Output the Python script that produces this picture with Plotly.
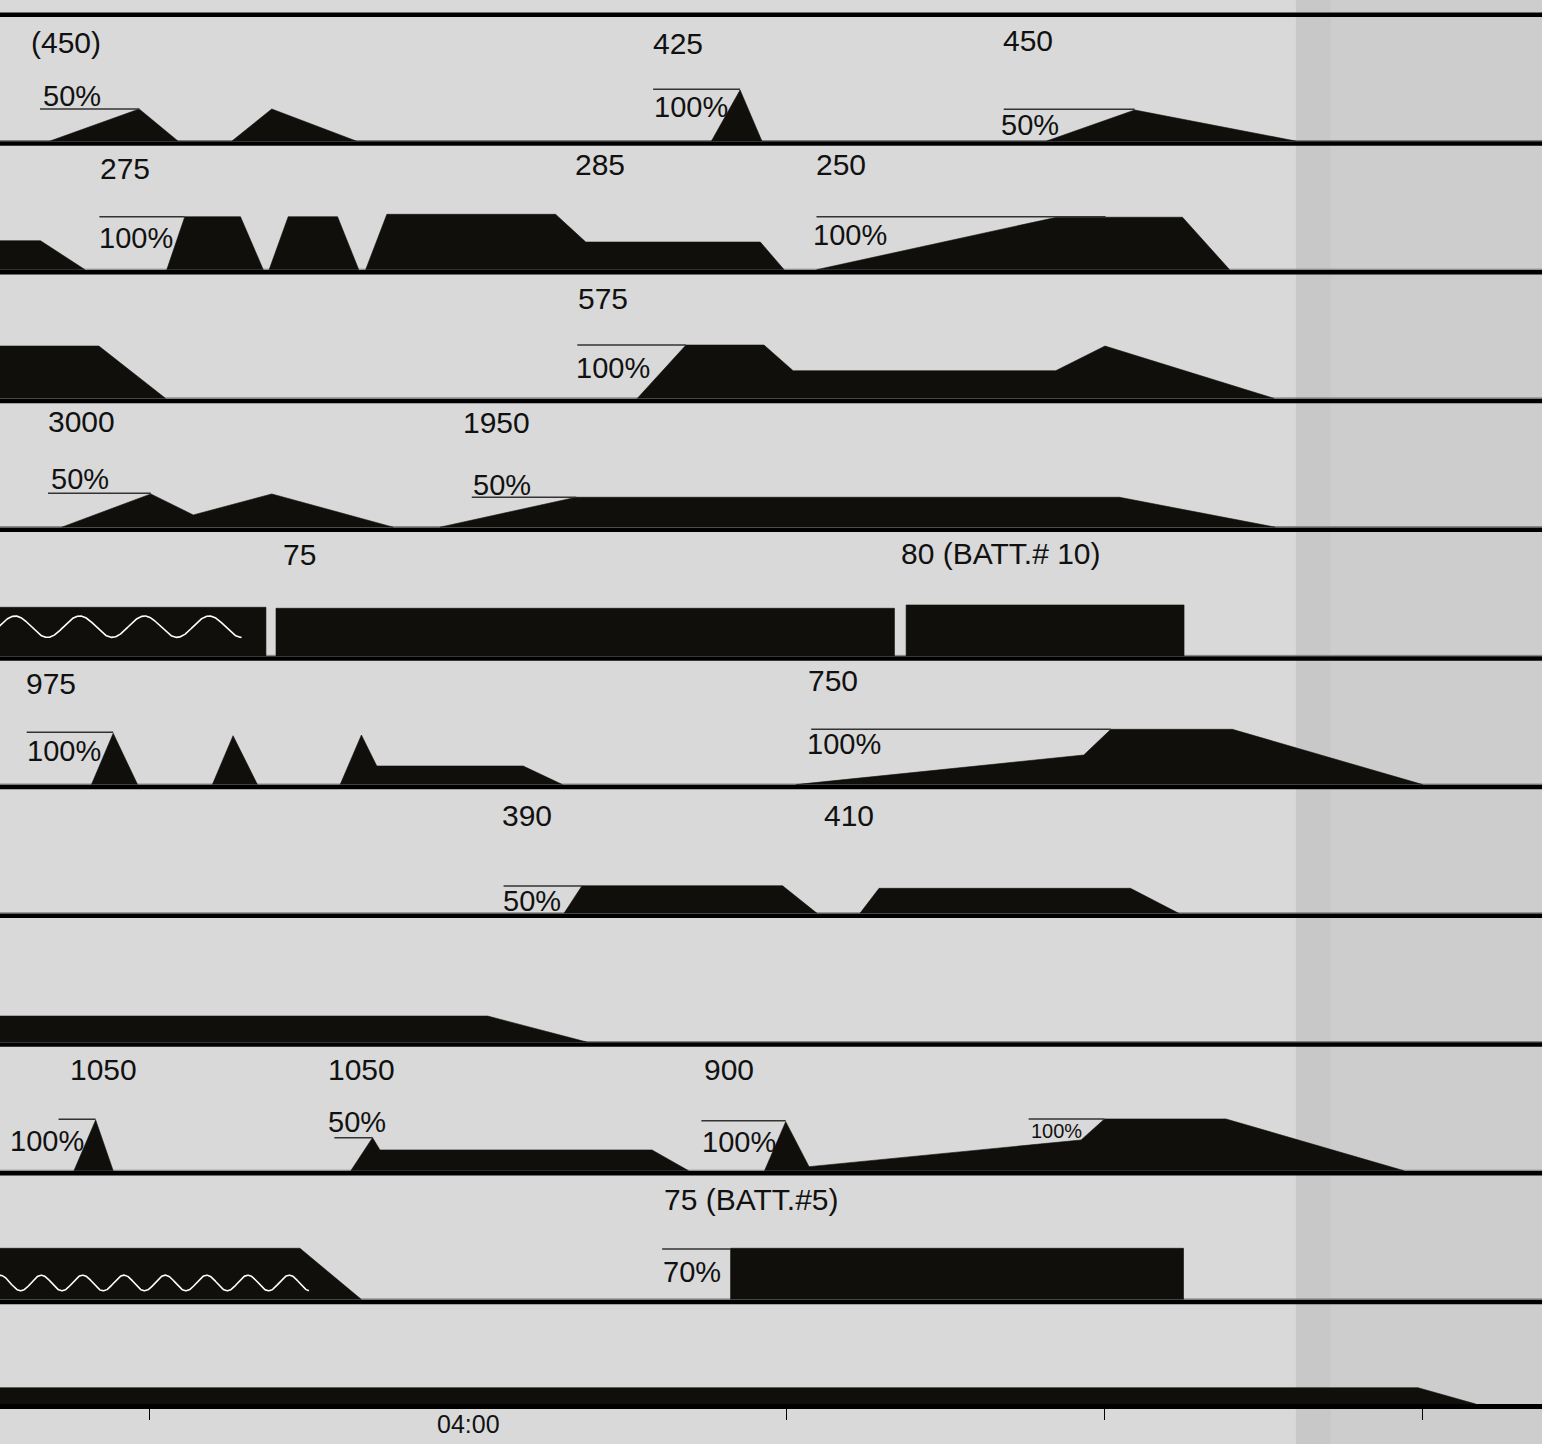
import numpy as np
import plotly.graph_objects as go

# ---------------- data ----------------
# time axis: minutes after midnight
T_RANGE = [151.76, 442.49]
TICK_TIMES = [180, 300, 360, 420]
LABEL_TIME = 240
LABEL_TEXT = "04:00"
SHADE_START = 396.1

# infusion / rate profiles per lane (time in minutes, level), None = gap
lane0_t = [161.2, 178.0, 185.3, None, 195.5, 203.0, 218.9, None, 285.9, 291.3, 295.4, None, 349.1, 365.7, 396.0]
lane0_h = [0, 34.5, 0, None, 0, 34.5, 0, None, 0, 53.5, 0, None, 0, 33.5, 0]

lane1_t = [151.5, 151.5, 159.4, 167.8, None, 183.2, 186.6, 197.1, 201.4, None, 202.5, 206.1, 215.4, 219.4,
           None, 220.7, 224.7, 256.5, 262.2, 295.1, 299.6, None, 305.7, 351.0, 374.7, 383.6]
lane1_h = [0, 31.5, 31.5, 0, None, 0, 55.5, 55.5, 0, None, 0, 55.5, 55.5, 0,
           None, 0, 57.9, 57.9, 30.2, 30.2, 0, None, 0, 55.0, 55.0, 0]

lane2_t = [151.5, 151.5, 170.4, 183.0, None, 271.9, 281.1, 295.8, 301.3, 350.8, 360.1, 392.0]
lane2_h = [0, 54.9, 54.9, 0, None, 0, 55.9, 55.9, 30.2, 30.2, 54.9, 0]

lane3_t = [163.4, 180.2, 188.2, 203.0, 225.9, None, 234.7, 260.4, 362.8, 392.2]
lane3_h = [0, 35.7, 14.7, 35.7, 0, None, 0, 32.4, 32.4, 0]

lane4_t = [151.5, 151.5, 201.9, 201.9, None, 203.8, 203.8, 320.4, 320.4, None, 322.6, 322.6, 375.0, 375.0]
lane4_h = [0, 51.1, 51.1, 0, None, 0, 50.1, 50.1, 0, None, 0, 53.4, 53.4, 0]

lane5_t = [169.0, 173.1, 177.7, None, 191.8, 195.7, 200.3, None, 215.9, 219.9, 222.8, 250.4, 257.8,
           None, 301.8, 356.1, 361.2, 384.1, 420.0]
lane5_h = [0, 53.8, 0, None, 0, 51.4, 0, None, 0, 52.1, 21.1, 21.1, 0,
           None, 0, 32.1, 57.8, 57.8, 0]

lane6_t = [258.1, 261.5, 299.3, 305.8, None, 313.9, 317.5, 364.9, 374.0]
lane6_h = [0, 30.1, 30.1, 0, None, 0, 27.5, 27.5, 0]

lane7_t = [151.5, 151.5, 243.7, 262.4]
lane7_h = [0, 28.5, 28.5, 0]

lane8_t = [165.7, 169.8, 173.1, None, 217.9, 222.0, 223.4, 274.7, 281.6,
           None, 295.9, 299.9, 304.3, 355.6, 360.0, 382.9, 416.5]
lane8_h = [0, 53.3, 0, None, 0, 35.6, 23.3, 23.3, 0,
           None, 0, 51.6, 6.6, 33.3, 54.3, 54.3, 0]

lane9_t = [151.5, 151.5, 208.3, 219.9, None, 289.5, 289.5, 374.9, 374.9]
lane9_h = [0, 53.7, 53.7, 0, None, 0, 53.7, 53.7, 0]

lane10_t = [151.5, 151.5, 419.1, 430.0]
lane10_h = [0, 16.3, 16.3, 0]

lanes_t = [lane0_t, lane1_t, lane2_t, lane3_t, lane4_t, lane5_t, lane6_t, lane7_t, lane8_t, lane9_t, lane10_t]
lanes_h = [lane0_h, lane1_h, lane2_h, lane3_h, lane4_h, lane5_h, lane6_h, lane7_h, lane8_h, lane9_h, lane10_h]

# percentage reference marks
ref_lane = [0, 0, 0, 1, 1, 2, 3, 3, 5, 5, 6, 8, 8, 8, 8, 9]
ref_t0 = [159.3, 274.9, 341.0, 170.5, 305.7, 260.6, 160.8, 240.7, 156.8, 304.7, 246.7, 162.8, 214.8, 284.0, 345.7, 276.6]
ref_t1 = [178.0, 291.3, 365.7, 186.6, 360.2, 281.1, 180.2, 260.4, 173.1, 361.2, 261.5, 169.8, 222.0, 299.9, 360.0, 289.5]
ref_h = [34.5, 54.2, 34.2, 55.5, 55.5, 55.9, 36.4, 32.4, 54.8, 57.8, 29.8, 54.0, 35.6, 52.6, 54.3, 53.0]

# value labels
lbl_text = ["(450)", "425", "450", "275", "285", "250", "575", "3000", "1950", "75", "80 (BATT.# 10)",
            "975", "750", "390", "410", "1050", "1050", "900", "75 (BATT.#5)"]
lbl_lane = [0, 0, 0, 1, 1, 1, 2, 3, 3, 4, 4, 5, 5, 6, 6, 8, 8, 8, 9]
lbl_t = [157.4, 274.6, 340.6, 170.5, 259.9, 305.4, 260.5, 160.6, 238.9, 204.9, 321.4,
         156.5, 303.9, 246.2, 307.0, 164.8, 213.5, 284.3, 276.8]
lbl_h = [101.0, 100.2, 103.5, 103.9, 107.4, 107.4, 102.6, 108.0, 106.7, 103.4, 104.9,
         103.8, 107.1, 100.8, 100.5, 103.3, 103.3, 103.3, 102.5]

# percentage labels
pct_text = ["50%", "100%", "50%", "100%", "100%", "100%", "50%", "50%", "100%", "100%", "50%",
            "100%", "50%", "100%", "100%", "70%"]
pct_lane = [0, 0, 0, 1, 1, 2, 3, 3, 5, 5, 6, 8, 8, 8, 8, 9]
pct_t = [159.6, 274.8, 340.3, 170.3, 304.8, 260.2, 161.1, 240.7, 156.7, 303.7, 246.4,
         153.5, 213.5, 284.0, 346.0, 276.6]
pct_h = [48.0, 37.0, 18.5, 33.9, 37.5, 33.4, 51.0, 44.2, 36.6, 42.9, 15.3, 32.5, 51.6, 30.8, 42.0, 30.3]
pct_small = [False] * 14 + [True, False]

# wave symbols inside bars
wave_lane = [4, 9]
wave_t0 = [151.5, 151.5]
wave_t1 = [197.3, 210.0]
wave_mid = [31.7, 19.0]
wave_amp = [10.7, 7.8]
wave_period = [12.2, 7.79]
wave_crest = [154.6, 151.76]

# ---------------- layout helpers ----------------
LANE_H = 128.72
Y_TOP = 1404
SEP_HALF = 2.5          # half thickness of lane separator (shapes sit on its top edge)
base = [1260.5 - LANE_H * i for i in range(10)] + [0.0]
top_sep = base[0] + LANE_H

FILL = "#100f0b"
BG = "#d9d9d9"
FONT = "Liberation Sans, Arial, sans-serif"

fig = go.Figure()

for i, (ts, hs) in enumerate(zip(lanes_t, lanes_h)):
    floor = SEP_HALF if i < 10 else 0.0
    ys = [None if h is None else base[i] + max(h, floor) for h in hs]
    fig.add_trace(go.Scatter(x=ts, y=ys, mode="lines", fill="toself", fillcolor=FILL,
                             line=dict(color=FILL, width=0.6), hoverinfo="skip"))

# waves
for ln, a, b, m, amp, per, cr in zip(wave_lane, wave_t0, wave_t1, wave_mid, wave_amp, wave_period, wave_crest):
    tt = np.linspace(a, b, 600)
    yy = base[ln] + m + amp * np.cos(2 * np.pi * (tt - cr) / per)
    fig.add_trace(go.Scatter(x=tt, y=yy, mode="lines", line=dict(color="white", width=1.6),
                             hoverinfo="skip"))

# reference marks
rx, ry = [], []
for ln, a, b, h in zip(ref_lane, ref_t0, ref_t1, ref_h):
    rx += [a, b, None]
    ry += [base[ln] + h, base[ln] + h, None]
fig.add_trace(go.Scatter(x=rx, y=ry, mode="lines", line=dict(color="#333333", width=1.5),
                         hoverinfo="skip"))

shapes = [
    dict(type="rect", xref="x", yref="paper", x0=SHADE_START, x1=T_RANGE[1], y0=-0.1, y1=1.0,
         fillcolor="#cdcdcd", line=dict(width=0), layer="below"),
    dict(type="rect", xref="x", yref="paper", x0=SHADE_START, x1=SHADE_START + 6.5, y0=-0.1, y1=1.0,
         fillcolor="#c8c8c8", line=dict(width=0), layer="below"),
]
for i in range(10):
    shapes.append(dict(type="line", xref="paper", yref="y", x0=0, x1=1, y0=base[i] + 3, y1=base[i] + 3,
                       line=dict(color="#7a7a7a", width=1), layer="below"))
for y in [top_sep] + base[:10]:
    shapes.append(dict(type="line", xref="paper", yref="y", x0=0, x1=1, y0=y, y1=y,
                       line=dict(color="black", width=4.5), layer="above"))

annotations = []
for txt, ln, t, h in zip(lbl_text, lbl_lane, lbl_t, lbl_h):
    annotations.append(dict(x=t, y=base[ln] + h, xref="x", yref="y", text=txt, showarrow=False,
                            xanchor="left", yanchor="middle", borderpad=0,
                            font=dict(family=FONT, size=30, color="#111111")))
for txt, ln, t, h, sm in zip(pct_text, pct_lane, pct_t, pct_h, pct_small):
    annotations.append(dict(x=t, y=base[ln] + h, xref="x", yref="y", text=txt, showarrow=False,
                            xanchor="left", yanchor="middle", borderpad=0,
                            font=dict(family=FONT, size=20 if sm else 29, color="#111111")))
annotations.append(dict(x=LABEL_TIME, y=0, xref="x", yref="paper", text=LABEL_TEXT, showarrow=False,
                        xanchor="center", yanchor="middle", yshift=-20,
                        font=dict(family=FONT, size=25, color="#111111")))

fig.update_layout(
    width=1542, height=1444,
    margin=dict(l=0, r=0, t=0, b=40, pad=0),
    paper_bgcolor=BG, plot_bgcolor=BG,
    showlegend=False,
    shapes=shapes, annotations=annotations,
    xaxis=dict(range=T_RANGE, showgrid=False, zeroline=False, showline=True, linecolor="black",
               linewidth=5, ticks="outside", ticklen=11, tickwidth=1, tickcolor="black",
               tickvals=TICK_TIMES, showticklabels=False, fixedrange=True),
    yaxis=dict(range=[0, Y_TOP], visible=False, fixedrange=True),
)

fig.write_html("out.html", config={"displayModeBar": False},
               post_script="document.body.style.margin='0';document.body.style.background='" + BG + "';")
